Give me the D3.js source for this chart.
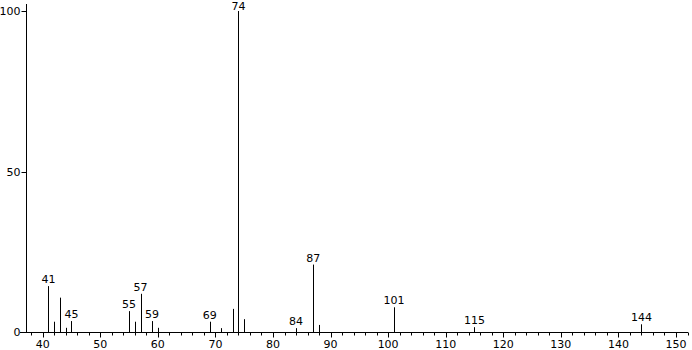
<!DOCTYPE html>
<html>
<head>
<meta charset="utf-8">
<script src="https://cdn.jsdelivr.net/npm/d3@7"></script>
<style>
  body { margin: 0; background: white; }
  svg { display: block; }
  text { font-family: "DejaVu Sans", Verdana, sans-serif; font-size: 11px; fill: #000; }
</style>
</head>
<body>
<svg id="chart" width="692" height="350"></svg>
<script>
// m/z values and relative abundance
const mz = [41, 42, 43, 44, 45, 55, 56, 57, 59, 60, 69, 71, 73, 74, 75, 84, 87, 88, 101, 115, 144];
const abundance = [14.3, 3.2, 10.7, 1.3, 3.4, 6.5, 3.2, 11.9, 3.4, 1.3, 3.2, 1.2, 7.2, 100, 4.0, 1.2, 21, 2.2, 7.7, 1.5, 2.4];
const labelled = [41, 45, 55, 57, 59, 69, 74, 84, 87, 101, 115, 144];
const xTicks = [40, 50, 60, 70, 80, 90, 100, 110, 120, 130, 140, 150];
const yTicks = [0, 50, 100];

const svg = d3.select("#chart");

const x = d3.scaleLinear().domain([40, 150]).range([42.7, 676]);
const y = d3.scaleLinear().domain([0, 100]).range([332, 11]);

const axisLeft = 26.5;
const axisY = 332.5;

// x axis line
svg.append("line")
  .attr("x1", 20).attr("x2", 688)
  .attr("y1", axisY).attr("y2", axisY)
  .attr("stroke", "#000");

// minor ticks every 2
const minor = d3.range(38, 153, 2).filter((d) => d % 10 !== 0);
svg.append("g").selectAll("line")
  .data(minor)
  .enter()
  .append("line")
  .attr("x1", (d) => Math.round(x(d)) + 0.5)
  .attr("x2", (d) => Math.round(x(d)) + 0.5)
  .attr("y1", axisY).attr("y2", axisY + 3)
  .attr("stroke", "#000");

// major ticks + labels
const major = svg.append("g");
major.selectAll("line")
  .data(xTicks)
  .enter()
  .append("line")
  .attr("x1", (d) => Math.round(x(d)) + 0.5)
  .attr("x2", (d) => Math.round(x(d)) + 0.5)
  .attr("y1", axisY).attr("y2", axisY + 5)
  .attr("stroke", "#000");
major.selectAll("text")
  .data(xTicks)
  .enter()
  .append("text")
  .attr("x", (d) => x(d))
  .attr("y", 348)
  .attr("text-anchor", "middle")
  .text((d) => d);

// y axis
svg.append("line")
  .attr("x1", axisLeft).attr("x2", axisLeft)
  .attr("y1", 4).attr("y2", axisY)
  .attr("stroke", "#000");

const yAxis = svg.append("g");
yAxis.selectAll("line")
  .data(yTicks)
  .enter()
  .append("line")
  .attr("x1", axisLeft - 5).attr("x2", axisLeft)
  .attr("y1", (d) => Math.round(y(d)) + 0.5)
  .attr("y2", (d) => Math.round(y(d)) + 0.5)
  .attr("stroke", "#000");
yAxis.selectAll("text")
  .data(yTicks)
  .enter()
  .append("text")
  .attr("x", axisLeft - 6)
  .attr("y", (d) => y(d) + 4)
  .attr("text-anchor", "end")
  .text((d) => d);

// peaks
const peaks = mz.map((m, i) => ({ mz: m, value: abundance[i] }));

svg.append("g").selectAll("line")
  .data(peaks)
  .enter()
  .append("line")
  .attr("x1", (d) => Math.round(x(d.mz)) + 0.5)
  .attr("x2", (d) => Math.round(x(d.mz)) + 0.5)
  .attr("y1", axisY)
  .attr("y2", (d) => y(d.value))
  .attr("stroke", "#000");

// peak labels
svg.append("g").selectAll("text")
  .data(peaks.filter((d) => labelled.includes(d.mz)))
  .enter()
  .append("text")
  .attr("x", (d) => x(d.mz))
  .attr("y", (d) => Math.max(y(d.value) - 3, 10))
  .attr("text-anchor", "middle")
  .text((d) => d.mz);
</script>
</body>
</html>
